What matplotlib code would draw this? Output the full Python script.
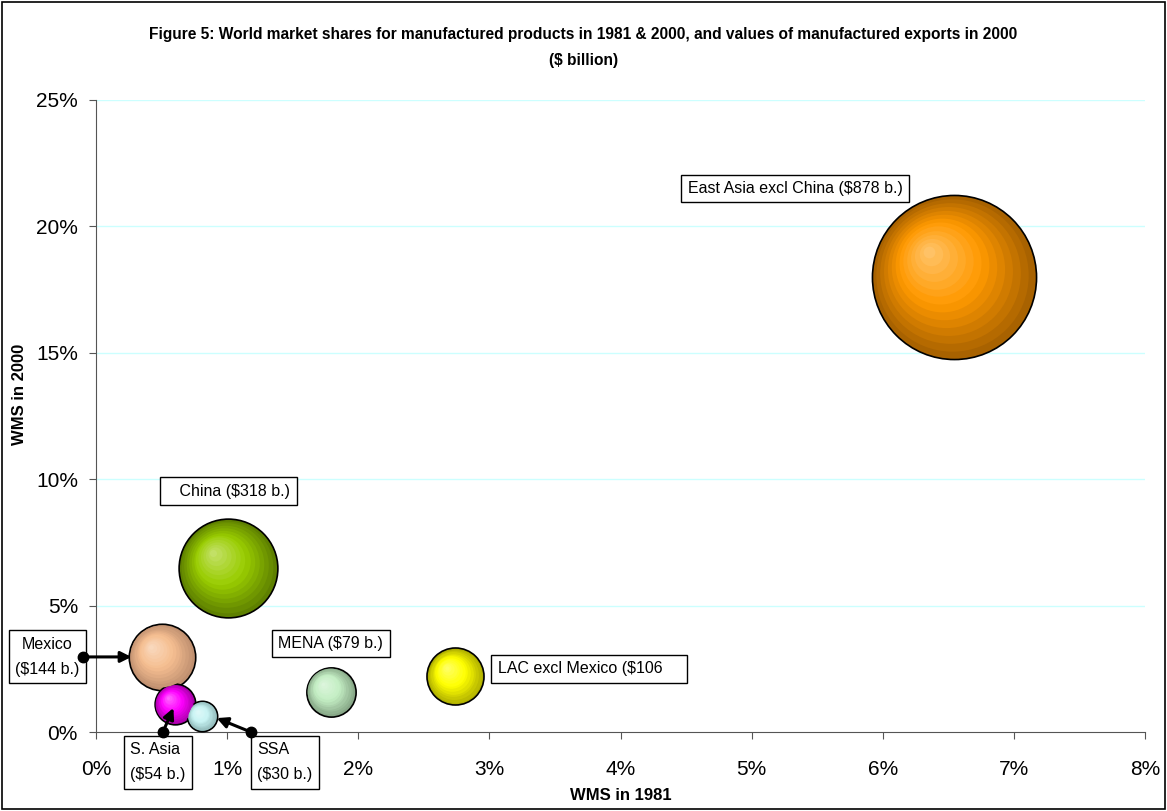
import numpy as np
import matplotlib.pyplot as plt
import matplotlib.colors as mcolors
from matplotlib.transforms import offset_copy
from matplotlib.patches import Rectangle

# Data
regions = ["East Asia excl China", "China", "Mexico", "S. Asia", "SSA", "MENA", "LAC excl Mexico"]
wms_1981 = [6.54, 1.01, 0.50, 0.60, 0.81, 1.79, 2.74]      # %
wms_2000 = [18.0, 6.5, 2.97, 1.1, 0.63, 1.6, 2.2]          # %
exports_2000 = [878, 318, 144, 54, 30, 79, 106]            # $ billion
labels = ["East Asia excl China ($878 b.)", "   China ($318 b.)", "Mexico\n($144 b.)",
          "S. Asia\n($54 b.)", "SSA\n($30 b.)", "MENA ($79 b.)", "LAC excl Mexico ($106    "]
base_colors = ["#FF9900", "#99CC00", "#F5BE90", "#FF00FF", "#C8F4F4", "#C4EEC4", "#FFFF00"]
dark_colors = ["#A86200", "#5E8000", "#C09070", "#A800A8", "#8FB8B8", "#88A888", "#B0B000"]

# label placement (data coords) and arrow tails
label_pos = [(5.33, 21.5), (1.01, 9.53), (-0.37, 2.97), (0.47, -1.2), (1.44, -1.2), (1.79, 3.5), (3.76, 2.5)]
arrows = {2: ((-0.10, 2.97), (0.27, 2.97)),
          3: ((0.51, 0.0), (0.59, 0.95)),
          4: ((1.18, 0.0), (0.92, 0.55))}

plt.rcParams['font.family'] = ['Liberation Sans', 'DejaVu Sans']

fig = plt.figure(figsize=(11.67, 8.11), dpi=100)
ax = fig.add_axes([0.0823, 0.0974, 0.8990, 0.7793])
fig.patches.append(Rectangle((0.002, 0.002), 0.996, 0.995, transform=fig.transFigure,
                             fill=False, edgecolor="black", linewidth=1.2))

scale = 15.9  # points^2 per $ billion
n_layers = 14
for i in range(len(regions)):
    s_full = scale * exports_2000[i]
    r_pt = np.sqrt(s_full) / 2
    c_dark = np.array(mcolors.to_rgb(dark_colors[i]))
    c_base = np.array(mcolors.to_rgb(base_colors[i]))
    c_light = c_base + (1 - c_base) * 0.4
    ax.scatter(wms_1981[i], wms_2000[i], s=s_full, color=dark_colors[i],
               edgecolor="black", linewidth=1.2, zorder=3)
    for k in range(1, n_layers):
        f = 1 - k / n_layers
        t = k / (n_layers - 1)
        if t < 0.5:
            col = c_dark + (c_base - c_dark) * (t / 0.5)
        else:
            col = c_base + (c_light - c_base) * ((t - 0.5) / 0.5)
        off = (1 - f) * r_pt * 0.33
        tr = offset_copy(ax.transData, fig=fig, x=-off, y=off, units='points')
        ax.scatter(wms_1981[i], wms_2000[i], s=s_full * f ** 2, color=col,
                   linewidth=0, transform=tr, zorder=3 + k * 0.01)

for i, lab in enumerate(labels):
    ax.text(label_pos[i][0], label_pos[i][1], lab, ha="center", va="center",
            multialignment="left" if i in (3, 4) else "center",
            fontsize=11.5, linespacing=1.85, zorder=6, clip_on=False,
            bbox=dict(boxstyle="square,pad=0.4", facecolor="white", edgecolor="black", linewidth=1))

for i, (tail, head) in arrows.items():
    ax.annotate("", xy=head, xytext=tail, annotation_clip=False, zorder=7,
                arrowprops=dict(arrowstyle="-|>", color="black", lw=2.2, mutation_scale=16,
                                shrinkA=0, shrinkB=0))
    ax.plot(tail[0], tail[1], "o", color="black", markersize=7.5, clip_on=False, zorder=8)

ax.set_xlim(0, 8)
ax.set_ylim(0, 25)
ax.set_xticks(range(0, 9))
ax.set_xticklabels([f"{v}%" for v in range(0, 9)])
ax.set_yticks(range(0, 26, 5))
ax.set_yticklabels([f"{v}%" for v in range(0, 26, 5)])
ax.tick_params(axis="x", direction="out", length=5, pad=15, labelsize=15, color="#555555")
ax.tick_params(axis="y", direction="out", length=5, pad=8, labelsize=15, color="#555555")
for g in range(5, 26, 5):
    ax.axhline(g, color="#CCFFFF", linewidth=1, zorder=1)
for sp in ["top", "right"]:
    ax.spines[sp].set_visible(False)
ax.spines["left"].set_color("#555555")
ax.spines["bottom"].set_color("#555555")

ax.set_xlabel("WMS in 1981", fontsize=12, fontweight="bold")
ax.xaxis.set_label_coords(0.5, -0.088)
ax.set_ylabel("WMS in 2000", fontsize=12, fontweight="bold")
ax.yaxis.set_label_coords(-0.0657, 0.535)
fig.text(0.5, 0.957, "Figure 5: World market shares for manufactured products in 1981 & 2000, and values of manufactured exports in 2000",
         ha="center", va="center", fontsize=11.2, fontweight="bold")
fig.text(0.5, 0.926, "($ billion)", ha="center", va="center", fontsize=11.2, fontweight="bold")

fig.savefig("out.png", dpi=100)
